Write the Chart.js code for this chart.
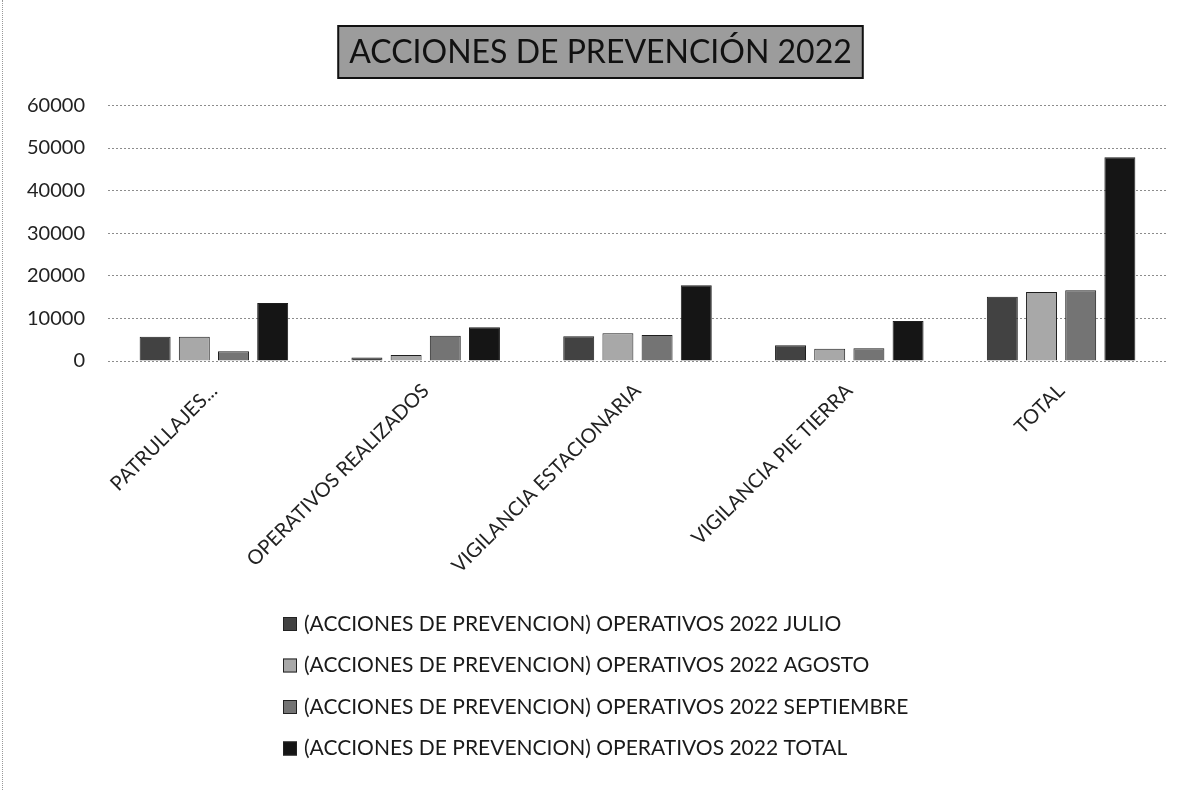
<!DOCTYPE html>
<html>
<head>
<meta charset="utf-8">
<script src="https://cdn.jsdelivr.net/npm/chart.js@4"></script>
<style>
	html, body { margin: 0; padding: 0; background: #fff; }
	#wrap { width: 1185px; height: 790px; position: relative; }
	#wrap::before { content: ''; position: absolute; left: 2px; top: 0; bottom: 0; border-left: 1px dotted #999; }
</style>
</head>
<body>
<div id="wrap"><canvas id="Chart_Acciones" width="1185" height="790"></canvas></div>
<script>
window.onload = init;

const categories = ['PATRULLAJES...', 'OPERATIVOS REALIZADOS', 'VIGILANCIA ESTACIONARIA', 'VIGILANCIA PIE TIERRA', 'TOTAL'];
const julio      = [5700, 800, 5800, 3700, 15100];
const agosto     = [5700, 1400, 6500, 2900, 16200];
const septiembre = [2300, 5900, 6100, 3000, 16600];
const total      = [13600, 7900, 17800, 9400, 47800];
const y_ticks    = [0, 10000, 20000, 30000, 40000, 50000, 60000];

const series_labels = [
	'(ACCIONES DE PREVENCION) OPERATIVOS 2022 JULIO',
	'(ACCIONES DE PREVENCION) OPERATIVOS 2022 AGOSTO',
	'(ACCIONES DE PREVENCION) OPERATIVOS 2022 SEPTIEMBRE',
	'(ACCIONES DE PREVENCION) OPERATIVOS 2022 TOTAL'
];
const series_colors = ['#424242', '#a8a8a8', '#747474', '#151515'];

const font_family = 'Lato, "Open Sans", sans-serif';

// title with grey framed box behind it
const title_box = {
	id: 'title_box',
	afterLayout(chart) {
		// the original title sits a bit right of the canvas centre
		const tb = chart.titleBlock;
		if(tb) { tb.left += 17; tb.right += 17; }
	},
	beforeDraw(chart) {
		const ctx = chart.ctx;
		const tb = chart.titleBlock;
		if(!tb) return;
		const opts = chart.options.plugins.title;
		ctx.save();
		ctx.font = `${opts.font.size}px ${font_family}`;
		const w = ctx.measureText(opts.text).width;
		const cx = (tb.left + tb.right) / 2;
		const x = cx - w / 2 - 11;
		ctx.fillStyle = '#9c9c9c';
		ctx.fillRect(x, 26, w + 22, 52);
		ctx.lineWidth = 2;
		ctx.strokeStyle = '#111';
		ctx.strokeRect(x, 26, w + 22, 52);
		ctx.restore();
	}
};

// vertical legend below the axis labels
const list_legend = {
	id: 'list_legend',
	afterDraw(chart) {
		const ctx = chart.ctx;
		ctx.save();
		ctx.font = `21px ${font_family}`;
		ctx.textBaseline = 'middle';
		chart.data.datasets.forEach(function(ds, i) {
			const y = 624 + i * 41.5;
			ctx.fillStyle = ds.backgroundColor;
			ctx.fillRect(283, y - 7, 14, 14);
			ctx.strokeStyle = '#222';
			ctx.lineWidth = 1;
			ctx.strokeRect(283.5, y - 6.5, 13, 13);
			ctx.fillStyle = '#1a1a1a';
			ctx.fillText(ds.label, 304, y);
		});
		ctx.restore();
	}
};

function init() {

	const datasets = [julio, agosto, septiembre, total].map(function(values, i) {
		return {
			label: series_labels[i],
			data: values,
			backgroundColor: series_colors[i],
			borderColor: '#1e1e1e',
			borderWidth: 1
		};
	});

	const options = {
		responsive: false,
		animation: false,
		layout: { padding: { top: 0, right: 18, left: 0, bottom: 190 } },
		datasets: {
			bar: { categoryPercentage: 0.74, barPercentage: 0.79 }
		},
		plugins: {
			legend: { display: false },
			tooltip: { enabled: false },
			title: {
				display: true,
				text: 'ACCIONES DE PREVENCIÓN 2022',
				color: '#111',
				font: { family: font_family, size: 32, weight: 'normal', lineHeight: 1.2 },
				padding: { top: 33, bottom: 34 }
			}
		},
		scales: {
			x: {
				grid: { display: false },
				border: { display: false },
				ticks: {
					color: '#222',
					font: { family: font_family, size: 20 },
					maxRotation: 45,
					minRotation: 45,
					padding: 10
				},
				afterFit: function(scale) { scale.height = 239; }
			},
			y: {
				min: 0,
				max: 60000,
				afterBuildTicks: function(scale) {
					scale.ticks = y_ticks.map(v => ({ value: v }));
				},
				afterFit: function(scale) { scale.width = 108; },
				border: { display: false, dash: [2, 2] },
				grid: {
					color: '#8c8c8c',
					lineWidth: 1,
					drawTicks: false
				},
				ticks: {
					color: '#222',
					font: { family: font_family, size: 20 },
					padding: 23,
					callback: function(value) { return String(value); }
				}
			}
		}
	};

	new Chart(document.getElementById('Chart_Acciones').getContext('2d'), {
		type: 'bar',
		data: { labels: categories, datasets: datasets },
		options: options,
		plugins: [title_box, list_legend]
	});
}
</script>
</body>
</html>
